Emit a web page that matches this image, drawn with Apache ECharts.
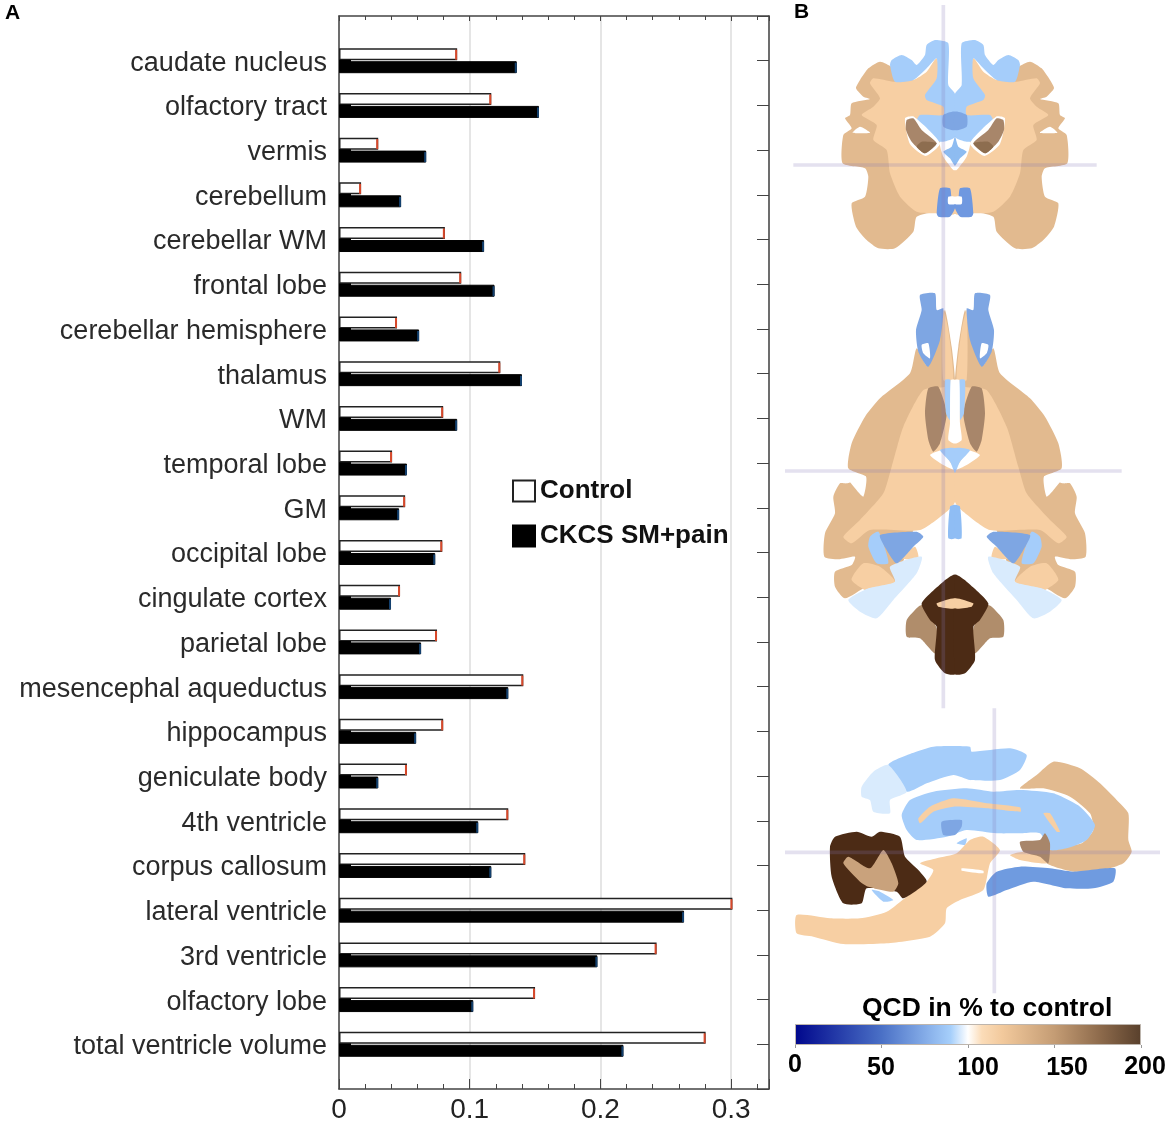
<!DOCTYPE html>
<html>
<head>
<meta charset="utf-8">
<title>QCD volumes</title>
<script src="https://cdn.jsdelivr.net/npm/echarts@6/dist/echarts.min.js"></script>
<style>
  html, body { margin: 0; padding: 0; background: #fff; }
  #chart { width: 1170px; height: 1131px; }
</style>
</head>
<body>
<div id="chart"></div>
<script>
// bar chart values, top to bottom
const categories = [
  "caudate nucleus", "olfactory tract", "vermis", "cerebellum", "cerebellar WM",
  "frontal lobe", "cerebellar hemisphere", "thalamus", "WM", "temporal lobe", "GM",
  "occipital lobe", "cingulate cortex", "parietal lobe", "mesencephal aqueductus",
  "hippocampus", "geniculate body", "4th ventricle", "corpus callosum",
  "lateral ventricle", "3rd ventricle", "olfactory lobe", "total ventricle volume",
];
const controlValues = [
  0.0904, 0.1165, 0.030, 0.0169, 0.081, 0.0935, 0.0444, 0.1234, 0.0797, 0.0406, 0.0506,
  0.079, 0.0467, 0.075, 0.141, 0.0797, 0.052, 0.1295, 0.1425, 0.301, 0.243, 0.150, 0.2805,
];
const painValues = [
  0.136, 0.153, 0.0667, 0.0475, 0.111, 0.119, 0.0613, 0.140, 0.0904, 0.052, 0.046,
  0.0736, 0.0398, 0.0628, 0.1295, 0.059, 0.030, 0.1065, 0.1165, 0.264, 0.1977, 0.1027, 0.2176,
];
const colorbarTicks = [0, 50, 100, 150, 200];

// colourbar stops
const QCD_STOPS = [
  [0, "#00078c"], [0.25, "#4a70c6"], [0.45, "#a6cffb"], [0.5, "#ffffff"],
  [0.54, "#fbdcb8"], [0.6, "#f2c99c"], [0.75, "#c49c74"], [0.88, "#8e6b4c"], [1, "#59402c"],
];

const TAN = "#e2ba8f";
const PEACH = "#f7cfa3";
const SKY = "#a5cdfa";
const PALE = "#d9ebfd";
const MID = "#7ea6e3";
const COCOA = "#a8866a";
const DARK = "#4c2b15";
const WHITE = "#ffffff";
const CROSS = "rgba(130,120,180,0.22)";

// brain outlines below are in crop pixels (3x), placed by a group offset
const coronalCx = 525;
const coronalHalf = [
  [TAN, [[335,200],[300,185],[265,205],[240,240],[228,265],[250,290],[270,297],[215,310],[210,345],[195,355],[215,385],[190,405],[188,490],[255,505],[265,530],[255,590],[215,610],[228,680],[260,720],[295,745],[345,745],[400,695],[410,650],[470,635],[525,640],[525,300],[470,240],[400,240]]],
  [PEACH, [[470,175],[440,215],[400,240],[340,245],[280,235],[270,250],[300,295],[280,320],[245,345],[290,375],[280,420],[320,450],[330,520],[360,590],[410,635],[470,640],[525,640],[525,300],[490,260]]],
  [WHITE, [[218,398],[240,380],[270,398]]],
  [WHITE, [[525,385],[480,425],[490,470],[520,510],[525,510]]],
  [SKY, [[335,180],[365,165],[395,180],[410,195],[435,165],[440,135],[465,120],[505,130],[505,255],[525,282],[525,410],[490,425],[450,420],[410,365],[420,345],[490,345],[490,320],[440,300],[435,285],[470,235],[470,175],[440,205],[400,240],[345,245],[330,195]]],
  [MID, [[490,345],[525,335],[525,390],[490,380]]],
  ["#8ebcf1", [[525,410],[515,440],[490,455],[510,475],[525,497]]],
  [WHITE, [[375,355],[402,350],[480,430],[437,468],[390,432]]],
  [COCOA, [[380,360],[400,355],[425,390],[470,430],[435,460],[395,425],[378,390]]],
  ["#8d6d4f", [[425,425],[470,430],[435,460],[410,440]]],
  ["#6f98e0", [[470,640],[480,565],[510,565],[515,595],[525,600],[525,625],[510,650],[475,650]]],
  [WHITE, [[505,590],[525,590],[525,612],[505,612]]],
];

const axialCx = 525;
const axialHalf = [
  [TAN, [[410,205],[390,280],[300,355],[255,410],[215,490],[205,565],[258,590],[200,610],[180,610],[160,650],[165,700],[135,760],[133,830],[175,838],[225,830],[215,855],[165,875],[165,920],[195,955],[260,920],[345,905],[420,700],[525,600],[525,300],[515,200],[495,90],[480,150],[440,255]]],
  [WHITE, [[205,595],[258,590],[250,650],[225,625]]],
  [PEACH, [[495,320],[430,330],[370,440],[335,560],[310,640],[240,720],[190,770],[215,790],[270,750],[420,750],[500,695],[525,665],[525,300],[495,300]]],
  [PEACH, [[490,90],[505,150],[520,300],[490,300]]],
  [PEACH, [[250,850],[215,900],[280,940],[345,905],[300,860]]],
  [PEACH, [[360,835],[405,800],[415,835]]],
  [PALE, [[425,830],[410,880],[340,960],[290,1015],[240,995],[205,960],[265,925],[345,905],[330,860]]],
  [SKY, [[270,770],[295,755],[310,790],[325,850],[290,850],[265,800]]],
  [MID, [[300,765],[410,755],[430,770],[400,800],[350,850],[320,810]]],
  [MID, [[420,45],[465,40],[470,90],[490,85],[480,180],[445,260],[415,215],[408,150],[425,90]]],
  [WHITE, [[425,195],[445,190],[450,235],[430,220]]],
  [COCOA, [[445,325],[475,320],[500,400],[480,490],[460,515],[445,480],[435,400]]],
  [SKY, [[495,300],[512,300],[510,420],[498,400]]],
  [WHITE, [[512,300],[525,300],[525,490],[505,480],[510,430]]],
  [WHITE, [[450,525],[490,510],[500,530],[525,570],[490,555]]],
  [SKY, [[480,510],[525,505],[525,578],[510,545]]],
  ["#8fbdf4", [[510,680],[525,675],[525,775],[505,775]]],
  ["#b08d6b", [[415,980],[430,975],[470,1045],[465,1120],[420,1075],[380,1070],[380,1020]]],
  [DARK, [[525,885],[490,905],[425,970],[450,1020],[470,1040],[465,1140],[495,1180],[525,1182]]],
  [PEACH, [[470,970],[525,955],[525,985],[475,980]]],
];

const sagittalShapes = [
  [TAN, [[720,265],[770,225],[820,185],[900,205],[960,250],[1010,300],[1045,340],[1045,420],[1055,455],[1030,490],[970,510],[880,515],[800,490],[800,450],[905,430],[940,390],[930,340],[870,290],[790,265]]],
  [SKY, [[325,195],[395,160],[460,140],[570,140],[575,155],[690,145],[740,165],[720,210],[660,240],[570,240],[520,225],[440,250],[380,275]]],
  [PALE, [[245,260],[280,215],[325,195],[380,275],[330,300],[330,340],[280,335],[270,300],[245,290]]],
  [SKY, [[365,345],[390,300],[460,275],[560,265],[640,275],[720,270],[820,280],[900,320],[945,375],[920,420],[860,445],[810,450],[780,400],[720,400],[650,400],[560,390],[500,410],[410,420],[380,390]]],
  [PEACH, [[415,355],[450,320],[520,295],[620,310],[720,322],[722,335],[620,325],[520,320],[460,335],[420,370]]],
  [PEACH, [[790,340],[810,340],[840,395],[830,395]]],
  [MID, [[485,365],[545,360],[545,380],[525,405],[490,405]]],
  [SKY, [[530,430],[560,415],[555,435]]],
  [SKY, [[275,570],[300,575],[340,600],[310,605]]],
  [PEACH, [[50,645],[150,655],[240,655],[320,635],[380,590],[440,545],[460,510],[420,490],[470,475],[530,460],[570,420],[610,410],[660,450],[630,490],[610,570],[540,600],[500,625],[495,670],[450,710],[320,730],[190,732],[100,710],[50,700]]],
  [DARK, [[150,440],[165,410],[230,395],[275,410],[300,395],[360,410],[375,470],[415,510],[440,545],[370,595],[350,575],[260,565],[245,610],[190,610],[155,530]]],
  ["#c9a27c", [[190,490],[205,470],[270,505],[310,450],[335,490],[355,550],[340,575],[265,560],[240,545]]],
  [WHITE, [[545,505],[610,512],[610,520],[545,512]]],
  [PEACH, [[690,465],[730,455],[800,460],[800,490],[720,480]]],
  ["#6f9be0", [[620,550],[650,515],[720,500],[810,505],[880,515],[1005,505],[1000,545],[940,565],[860,565],[760,545],[680,570],[625,590]]],
  [COCOA, [[720,425],[780,420],[795,400],[810,430],[805,490],[780,470],[730,455]]],
];

const polygon = (color, points) => ({
  type: "polygon",
  silent: true,
  shape: { points, smooth: 0.2 },
  style: { fill: color },
});

const crossLine = (x1, y1, x2, y2) => ({
  type: "line",
  silent: true,
  shape: { x1, y1, x2, y2 },
  style: { stroke: CROSS, lineWidth: 11 },
});

const mirrored = (shapes, cx) =>
  shapes.flatMap(([color, points]) => [
    polygon(color, points),
    polygon(color, points.map(([x, y]) => [2 * cx - x, y])),
  ]);

const brainGroup = (x, y, children) => ({
  type: "group",
  x,
  y,
  scaleX: 1 / 3,
  scaleY: 1 / 3,
  children,
});

const plainText = (x, y, text, fontSize, align) => ({
  type: "text",
  x,
  y,
  silent: true,
  style: {
    text,
    fill: "#000",
    font: `bold ${fontSize}px "Liberation Sans", Arial, sans-serif`,
    textAlign: align || "left",
    textVerticalAlign: "middle",
  },
});

// blank ends so that each category sits on a tick, with half a row of space above and below
const paddedCategories = ["", ...categories, " "];
const padded = (values) => [null, ...values, null];

// coloured end of each bar, plus the small stub at the left of the black bars
const barEnds = (color, offset, withStub) => (params, api) => {
  const end = api.coord([api.value(0), api.value(1)]);
  const start = api.coord([0, api.value(1)]);
  const children = [{
    type: "rect",
    shape: { x: end[0] - 2, y: end[1] + offset, width: 2, height: 10 },
    style: { fill: color },
  }];
  if (withStub) {
    children.push({
      type: "rect",
      shape: { x: start[0], y: end[1] - 1, width: 12, height: 4 },
      style: { fill: "#000" },
    });
  }
  return { type: "group", children };
};

const option = {
  animation: false,
  backgroundColor: "#fff",
  textStyle: { fontFamily: '"Liberation Sans", Arial, sans-serif' },
  title: {
    text: "QCD in % to control",
    left: 862,
    top: 995,
    padding: 0,
    textStyle: { fontSize: 26.5, fontWeight: "bold", color: "#000" },
  },
  legend: {
    data: [
      { name: "Control", icon: "rect" },
      { name: "CKCS SM+pain", icon: "rect" },
    ],
    orient: "vertical",
    left: 512,
    top: 478,
    padding: 0,
    itemWidth: 22,
    itemHeight: 21,
    itemGap: 19,
    selectedMode: false,
    textStyle: { fontSize: 26, fontWeight: "bold", color: "#111" },
  },
  grid: [
    { left: 339, top: 16, width: 430, height: 1073 },
    { left: 795, top: 1024, width: 346, height: 21 },
  ],
  xAxis: [
    {
      gridIndex: 0,
      type: "value",
      position: "bottom",
      min: 0,
      max: 0.329,
      interval: 0.1,
      axisLine: { show: true, onZero: false, lineStyle: { color: "#444", width: 1.5 } },
      axisTick: { show: true, inside: true, length: 10, lineStyle: { color: "#444", width: 1 } },
      minorTick: { show: true, splitNumber: 5, length: 5, lineStyle: { color: "#444", width: 1 } },
      splitLine: { show: true, lineStyle: { color: "#dcdcdc", width: 1.5 } },
      axisLabel: {
        fontSize: 28,
        color: "#222",
        margin: 7,
        showMaxLabel: false,
        formatter: (v) => (v === 0 ? "0" : String(v)),
      },
    },
    {
      gridIndex: 0,
      type: "value",
      position: "top",
      min: 0,
      max: 0.329,
      interval: 0.1,
      axisLine: { show: true, onZero: false, lineStyle: { color: "#444", width: 1.5 } },
      axisTick: { show: true, inside: true, length: 5, lineStyle: { color: "#444", width: 1 } },
      minorTick: { show: true, splitNumber: 5, length: 4, lineStyle: { color: "#444", width: 1 } },
      splitLine: { show: false },
      axisLabel: { show: false },
    },
    {
      gridIndex: 1,
      type: "value",
      min: 0,
      max: 200,
      interval: 50,
      axisLine: { show: false },
      axisTick: { show: true, length: 3, lineStyle: { color: "#999" } },
      splitLine: { show: false },
      axisLabel: { show: false },
    },
  ],
  yAxis: [
    {
      gridIndex: 0,
      type: "category",
      inverse: true,
      position: "left",
      boundaryGap: false,
      data: paddedCategories,
      axisLine: { show: true, onZero: false, lineStyle: { color: "#444", width: 1.5 } },
      axisTick: { show: false },
      splitLine: { show: false },
      // short line box hung from the tick: nudges the text just below centre, as in the figure
      axisLabel: { interval: 0, fontSize: 27, color: "#2a2a2a", margin: 12, verticalAlign: "top", lineHeight: 5 },
    },
    {
      gridIndex: 0,
      type: "category",
      inverse: true,
      position: "right",
      boundaryGap: false,
      data: paddedCategories,
      axisLine: { show: true, onZero: false, lineStyle: { color: "#444", width: 1.5 } },
      axisTick: { show: true, inside: true, length: 12, interval: 0, lineStyle: { color: "#444", width: 1 } },
      splitLine: { show: false },
      axisLabel: { show: false },
    },
    {
      gridIndex: 1,
      type: "category",
      data: ["QCD"],
      axisLine: { show: false },
      axisTick: { show: false },
      axisLabel: { show: false },
    },
  ],
  series: [
    {
      name: "Control",
      type: "bar",
      xAxisIndex: 0,
      yAxisIndex: 0,
      data: padded(controlValues),
      barWidth: 12,
      barGap: "8%",
      itemStyle: { color: "#fff", borderColor: "#222", borderWidth: 1.5 },
    },
    {
      name: "CKCS SM+pain",
      type: "bar",
      xAxisIndex: 0,
      yAxisIndex: 0,
      data: padded(painValues),
      barWidth: 12,
      itemStyle: { color: "#000", borderColor: "#000", borderWidth: 1 },
    },
    {
      type: "custom",
      xAxisIndex: 0,
      yAxisIndex: 0,
      z: 3,
      silent: true,
      renderItem: barEnds("#d8482a", -11, false),
      data: controlValues.map((v, i) => [v, i + 1]),
    },
    {
      type: "custom",
      xAxisIndex: 0,
      yAxisIndex: 0,
      z: 3,
      silent: true,
      renderItem: barEnds("#13406e", 2, true),
      data: painValues.map((v, i) => [v, i + 1]),
    },
    {
      type: "bar",
      xAxisIndex: 2,
      yAxisIndex: 2,
      barWidth: "100%",
      silent: true,
      data: [200],
      itemStyle: {
        borderColor: "#bdb5ad",
        borderWidth: 1,
        color: new echarts.graphic.LinearGradient(
          0, 0, 1, 0,
          QCD_STOPS.map(([offset, color]) => ({ offset, color }))
        ),
      },
    },
  ],
  graphic: [
    plainText(5, 13, "A", 21),
    plainText(794, 12, "B", 21),
    // colourbar labels sit a little off their ticks in the source figure
    plainText(795, 1065, String(colorbarTicks[0]), 25, "center"),
    plainText(881, 1068, String(colorbarTicks[1]), 25, "center"),
    plainText(978, 1068, String(colorbarTicks[2]), 25, "center"),
    plainText(1067, 1068, String(colorbarTicks[3]), 25, "center"),
    plainText(1145, 1067, String(colorbarTicks[4]), 25, "center"),
    brainGroup(780, 0, [
      ...mirrored(coronalHalf, coronalCx),
      crossLine(490, 15, 490, 840),
      crossLine(40, 495, 950, 495),
    ]),
    brainGroup(780, 280, [
      ...mirrored(axialHalf, axialCx),
      crossLine(490, 0, 490, 1285),
      crossLine(15, 573, 1025, 573),
    ]),
    brainGroup(780, 700, [
      ...sagittalShapes.map(([color, points]) => polygon(color, points)),
      crossLine(643, 25, 643, 880),
      crossLine(15, 457, 1140, 457),
    ]),
  ],
};

const chart = echarts.init(document.getElementById("chart"));
chart.setOption(option);
</script>
</body>
</html>
